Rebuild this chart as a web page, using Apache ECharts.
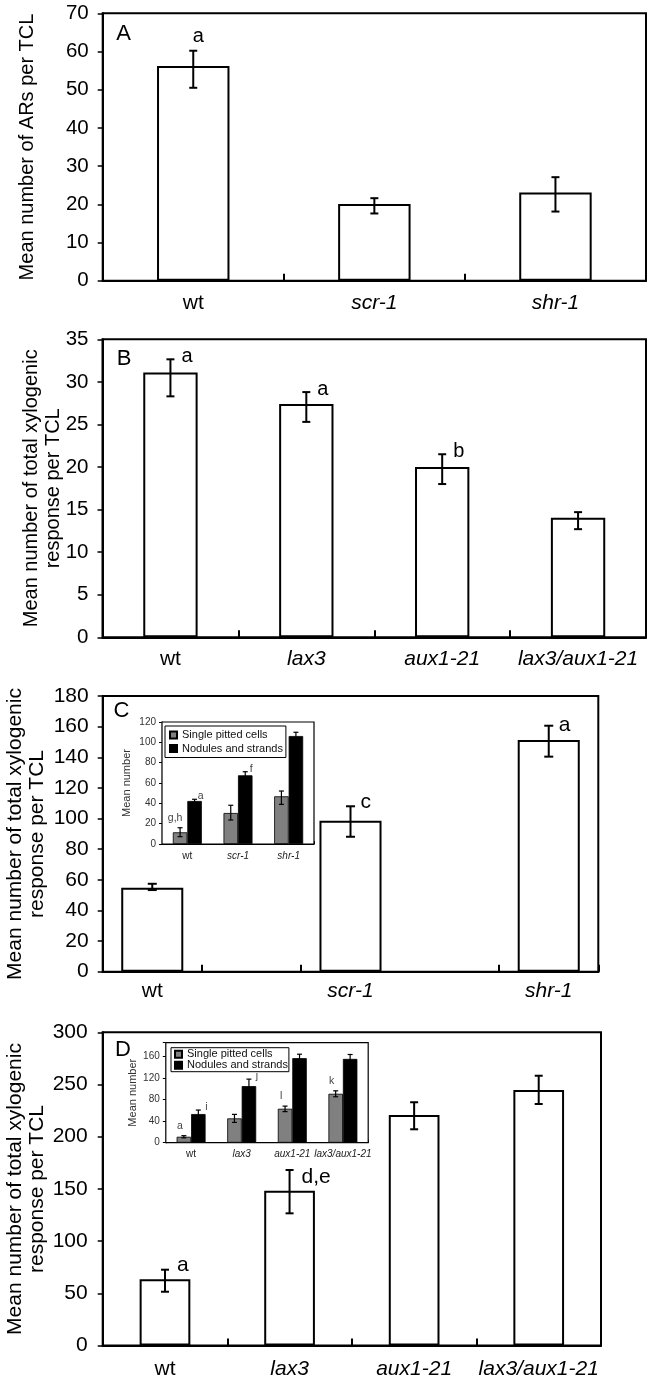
<!DOCTYPE html>
<html><head><meta charset="utf-8">
<script src="https://cdn.jsdelivr.net/npm/echarts@6/dist/echarts.min.js"></script>
<style>html,body{margin:0;padding:0;background:#fff}#c{width:650px;height:1383px}</style>
</head><body><div id="c"></div>
<script>
// ---------------- DATA ----------------
// Panel A
const catsA = ['wt', 'scr-1', 'shr-1'];
const meanA = [56.2, 20.1, 23.1];
const hiA = [60.2, 21.6, 27.1];
const loA = [50.5, 17.6, 18.1];
const lettersA = ['a', '', ''];
const ticksA = {max: 70, interval: 10};

// Panel B
const catsB = ['wt', 'lax3', 'aux1-21', 'lax3/aux1-21'];
const meanB = [31.1, 27.4, 20.0, 14.05];
const hiB = [32.65, 28.8, 21.5, 14.7];
const loB = [28.3, 25.3, 18.0, 12.7];
const lettersB = ['a', 'a', 'b', ''];
const ticksB = {max: 35, interval: 5};

// Panel C
const catsC = ['wt', 'scr-1', 'shr-1'];
const meanC = [54.8, 98.6, 151.3];
const hiC = [57.4, 108.0, 160.6];
const loC = [53.3, 88.1, 140.4];
const lettersC = ['', 'c', 'a'];
const ticksC = {max: 180, interval: 20};

// Panel C inset
const insetCatsC = ['wt', 'scr-1', 'shr-1'];
const singleC = [11.5, 30.5, 46.9];
const singleHiC = [16.0, 38.1, 52.1];
const singleLoC = [7.2, 23.6, 39.0];
const singleLettersC = ['g,h', '', ''];
const noduleC = [42.3, 67.6, 106.2];
const noduleHiC = [44.0, 71.1, 109.9];
const noduleLoC = [41.0, 64.5, 103.0];
const noduleLettersC = ['a', 'f', ''];
const ticksCi = {max: 120, interval: 20};

// Panel D
const catsD = ['wt', 'lax3', 'aux1-21', 'lax3/aux1-21'];
const meanD = [63.4, 148.3, 220.8, 244.7];
const hiD = [72.6, 168.1, 233.0, 258.4];
const loD = [51.5, 126.6, 207.1, 231.3];
const lettersD = ['a', 'd,e', '', ''];
const ticksD = {max: 300, interval: 50};

// Panel D inset
const insetCatsD = ['wt', 'lax3', 'aux1-21', 'lax3/aux1-21'];
const singleD = [11.0, 45.0, 62.8, 90.5];
const singleHiD = [13.0, 52.4, 67.7, 96.0];
const singleLoD = [9.0, 37.5, 57.5, 85.0];
const singleLettersD = ['a', '', 'l', 'k'];
const noduleD = [53.0, 104.7, 156.4, 155.0];
const noduleHiD = [60.4, 117.6, 163.7, 163.2];
const noduleLoD = [46.5, 91.5, 149.0, 147.0];
const noduleLettersD = ['i', 'j', '', ''];
const ticksDi = {max: 185, interval: 40};

const seriesNames = ['Single pitted cells', 'Nodules and strands'];
const titleA = 'Mean number of ARs per TCL';
const titleXyl = 'Mean number of total xylogenic\nresponse per TCL';
const insetTitle = 'Mean number';

// ---------------- LAYOUT / STYLE ----------------
const FONT = '"Liberation Sans", Arial, Helvetica, sans-serif';
const grids = [
  {left: 102.7, top: 13.3, width: 543.3, height: 267.4},   // A
  {left: 102.5, top: 339.3, width: 543.5, height: 298},    // B
  {left: 102.7, top: 696, width: 495.6, height: 275.7},    // C
  {left: 162, top: 722, width: 152, height: 122},          // C inset
  {left: 102.7, top: 1032.3, width: 498.3, height: 313.2}, // D
  {left: 165.8, top: 1042.7, width: 202.4, height: 100}    // D inset
];

function catFormatter(v) {
  if (!v || !v.trim()) return '';
  return v === 'wt' ? '{n|' + v + '}' : '{i|' + v + '}';
}
function mainX(gi, cats, fs, margin, tickInterval) {
  return {
    type: 'category', gridIndex: gi, data: cats,
    axisLine: {show: true, lineStyle: {color: '#000', width: 2}},
    axisTick: {show: true, inside: true, length: 7, lineStyle: {color: '#000', width: 2},
      interval: tickInterval || 0},
    axisLabel: {interval: 0, margin: margin, formatter: catFormatter, color: '#000', hideOverlap: false,
      rich: {
        n: {fontFamily: FONT, fontSize: fs, color: '#000'},
        i: {fontFamily: FONT, fontSize: fs, fontStyle: 'italic', color: '#000'}
      }},
    splitLine: {show: false}
  };
}
function mainY(gi, t, fs, margin) {
  return {
    type: 'value', gridIndex: gi, min: 0, max: t.max, interval: t.interval,
    axisLine: {show: true, lineStyle: {color: '#000', width: 2}},
    axisTick: {show: true, inside: false, length: 5, lineStyle: {color: '#000', width: 1.5}},
    axisLabel: {fontFamily: FONT, fontSize: fs, color: '#000', margin: margin},
    splitLine: {show: false}
  };
}
function insetX(gi, cats) {
  return {
    type: 'category', gridIndex: gi, data: cats,
    axisLine: {show: true, lineStyle: {color: '#000', width: 1.2}},
    axisTick: {show: true, inside: true, length: 3, interval: 0, lineStyle: {color: '#000', width: 1}},
    axisLabel: {interval: 0, margin: 7, formatter: catFormatter, hideOverlap: false,
      rich: {
        n: {fontFamily: FONT, fontSize: 10, color: '#222'},
        i: {fontFamily: FONT, fontSize: 10, fontStyle: 'italic', color: '#222'}
      }},
    splitLine: {show: false}
  };
}
function insetY(gi, t) {
  return {
    type: 'value', gridIndex: gi, min: 0, max: t.max, interval: t.interval,
    axisLine: {show: true, lineStyle: {color: '#000', width: 1.2}},
    axisTick: {show: true, inside: false, length: 3, lineStyle: {color: '#000', width: 1}},
    axisLabel: {fontFamily: FONT, fontSize: 10, color: '#333', margin: 6,
      formatter: v => (v % t.interval === 0 ? String(v) : '')},
    splitLine: {show: false}
  };
}

function errSeries(gi, slots, lo, hi, letters, o) {
  return {
    type: 'custom', xAxisIndex: gi, yAxisIndex: gi, z: o.z || 5, silent: true, clip: false,
    encode: {x: 0, y: [1, 2]},
    data: slots.map((s, i) => [s, lo[i], hi[i]]),
    renderItem: function (params, api) {
      const i = params.dataIndex;
      const c = api.value(0);
      const x = api.coord([c, 0])[0] + (o.offFrac || 0) * api.size([1, 0])[0];
      const yH = api.coord([c, api.value(2)])[1];
      const yL = api.coord([c, api.value(1)])[1];
      const st = {stroke: '#000', lineWidth: o.lw};
      const ch = [
        {type: 'line', shape: {x1: x, y1: yH, x2: x, y2: yL}, style: st},
        {type: 'line', shape: {x1: x - o.cap / 2, y1: yH, x2: x + o.cap / 2, y2: yH}, style: st},
        {type: 'line', shape: {x1: x - o.cap / 2, y1: yL, x2: x + o.cap / 2, y2: yL}, style: st}
      ];
      if (letters && letters[i]) {
        const dy = Array.isArray(o.dy) ? o.dy[i] : o.dy;
        ch.push({type: 'text', x: x + o.dx, y: yH + dy,
          style: {text: letters[i], font: o.font, fill: o.color || '#000',
            align: o.align, verticalAlign: 'middle', textAlign: o.align, textVerticalAlign: 'middle'}});
      }
      return {type: 'group', children: ch};
    }
  };
}
function mainBar(gi, values, bw) {
  return {
    type: 'bar', xAxisIndex: gi, yAxisIndex: gi, data: values, barWidth: bw, silent: true,
    itemStyle: {color: '#fff', borderColor: '#000', borderWidth: 2}, z: 3
  };
}
function insetBar(gi, name, values, color) {
  return {
    type: 'bar', name: name, xAxisIndex: gi, yAxisIndex: gi, data: values,
    barWidth: '28.6%', barGap: '0%', silent: true, z: 12,
    itemStyle: {color: color, borderColor: '#000', borderWidth: 0.8}
  };
}

// C panel uses spacer slots between groups
const slotAxisC = [catsC[0], '', catsC[1], ' ', catsC[2]];
const slotIdxC = [0, 2, 4];
const slotMeanC = slotAxisC.map(() => '-');
slotIdxC.forEach((s, i) => { slotMeanC[s] = meanC[i]; });

const idx = arr => arr.map((_, i) => i);
const mainFont = '20px ' + FONT;
const insetFont = '10.5px ' + FONT;

const option = {
  animation: false,
  backgroundColor: '#fff',
  grid: grids.map((g, i) => Object.assign({
    show: true, borderColor: '#000', borderWidth: (i === 3 || i === 5) ? 1.2 : 2,
    backgroundColor: '#fff', containLabel: false, outerBoundsMode: 'none',
    z: (i === 3 || i === 5) ? 10 : 0
  }, g)),
  xAxis: [
    mainX(0, catsA, 21, 12),
    mainX(1, catsB, 21, 11),
    mainX(2, slotAxisC, 21, 9, (i) => i !== 0 && i !== 3),
    insetX(3, insetCatsC),
    mainX(4, catsD, 21, 13),
    insetX(5, insetCatsD)
  ],
  yAxis: [
    mainY(0, ticksA, 20.5, 14),
    mainY(1, ticksB, 20.5, 14),
    mainY(2, ticksC, 21, 14),
    insetY(3, ticksCi),
    mainY(4, ticksD, 21, 15),
    insetY(5, ticksDi)
  ],
  legend: [
    {left: 165, top: 726, orient: 'vertical', padding: [3, 3, 3, 4], itemGap: 1.5,
      itemWidth: 7, itemHeight: 7, icon: 'rect', borderColor: '#000', borderWidth: 1,
      backgroundColor: '#fff', selectedMode: false, z: 20, data: seriesNames,
      textStyle: {fontFamily: FONT, fontSize: 11, color: '#111', lineHeight: 12}},
    {left: 171, top: 1047.7, orient: 'vertical', padding: [1, 1, 1, 3], itemGap: 0,
      itemWidth: 7, itemHeight: 7, icon: 'rect', borderColor: '#000', borderWidth: 1,
      backgroundColor: '#fff', selectedMode: false, z: 20, data: seriesNames,
      textStyle: {fontFamily: FONT, fontSize: 11, color: '#111', lineHeight: 11}}
  ],
  series: [
    mainBar(0, meanA, '40%'),
    errSeries(0, idx(catsA), loA, hiA, lettersA,
      {cap: 8, lw: 2, dx: 5, dy: -14, align: 'center', font: mainFont}),
    mainBar(1, meanB, '40%'),
    errSeries(1, idx(catsB), loB, hiB, lettersB,
      {cap: 8, lw: 2, dx: 11, dy: -3, align: 'left', font: mainFont}),
    mainBar(2, slotMeanC, '62.6%'),
    errSeries(2, slotIdxC, loC, hiC, lettersC,
      {cap: 9, lw: 2, dx: 10, dy: [0, -4, -1], align: 'left', font: '21px ' + FONT}),
    insetBar(3, seriesNames[0], singleC, '#808080'),
    insetBar(3, seriesNames[1], noduleC, '#000'),
    errSeries(3, idx(insetCatsC), singleLoC, singleHiC, singleLettersC,
      {offFrac: -0.143, cap: 5, lw: 1.2, dx: -5, dy: -10, align: 'center', font: insetFont, color: '#444', z: 14}),
    errSeries(3, idx(insetCatsC), noduleLoC, noduleHiC, noduleLettersC,
      {offFrac: 0.143, cap: 5, lw: 1.2, dx: 6, dy: -3, align: 'center', font: insetFont, color: '#444', z: 14}),
    mainBar(4, meanD, '40.7%'),
    errSeries(4, idx(catsD), loD, hiD, lettersD,
      {cap: 8, lw: 2, dx: 12, dy: [-5, 7, 0, 0], align: 'left', font: '21px ' + FONT}),
    insetBar(5, seriesNames[0], singleD, '#808080'),
    insetBar(5, seriesNames[1], noduleD, '#000'),
    errSeries(5, idx(insetCatsD), singleLoD, singleHiD, singleLettersD,
      {offFrac: -0.143, cap: 5, lw: 1.2, dx: -4, dy: -10, align: 'center', font: insetFont, color: '#444', z: 14}),
    errSeries(5, idx(insetCatsD), noduleLoD, noduleHiD, noduleLettersD,
      {offFrac: 0.143, cap: 5, lw: 1.2, dx: 8, dy: -3, align: 'center', font: insetFont, color: '#444', z: 14})
  ],
  graphic: [
    // panel letters
    ...[['A', 123.5, 34], ['B', 124, 359], ['C', 121.5, 711], ['D', 123, 1050]].map(p => ({
      type: 'text', x: p[1], y: p[2], z: 30,
      style: {text: p[0], font: '22px ' + FONT, fill: '#000', align: 'center', verticalAlign: 'middle',
        textAlign: 'center', textVerticalAlign: 'middle'}
    })),
    // axis titles
    ...[[titleA, 27, 147, 20, 22], [titleXyl, 42, 488.3, 20, 22], [titleXyl, 26, 834, 21, 22],
        [titleXyl, 26, 1189, 21, 22], [insetTitle, 126.7, 783, 11, 12], [insetTitle, 132.7, 1092.7, 11, 12]].map(t => ({
      type: 'text', x: t[1], y: t[2], rotation: Math.PI / 2, z: 30,
      style: {text: t[0], font: t[3] + 'px ' + FONT, fill: t[3] < 15 ? '#333' : '#000', lineHeight: t[4],
        align: 'center', verticalAlign: 'middle', textAlign: 'center', textVerticalAlign: 'middle'}
    }))
  ]
};

const chart = echarts.init(document.getElementById('c'), null, {renderer: 'canvas'});
chart.setOption(option);
</script>
</body></html>
